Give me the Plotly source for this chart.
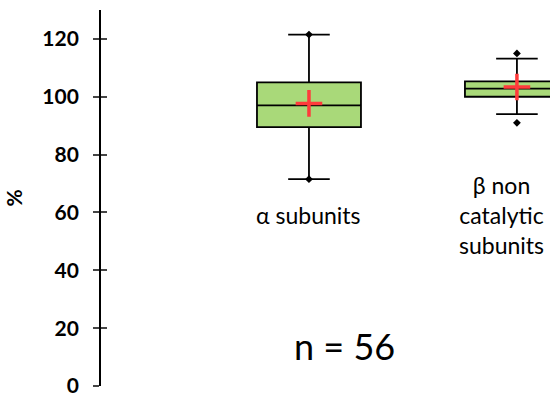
import plotly.graph_objects as go

# box statistics
groups = ["α subunits", "β non catalytic subunits"]
group_labels = ["α subunits", "β non<br>catalytic<br>subunits"]
q1 = [89.5, 100.0]
median = [97.0, 102.8]
q3 = [105.0, 105.3]
whisker_low = [71.5, 94.0]
whisker_high = [121.5, 113.2]
mean = [97.7, 103.4]
min_val = [71.5, 91.0]
max_val = [121.5, 115.0]

y_ticks = [0, 20, 40, 60, 80, 100, 120]
label_y = 59
n_text = "n = 56"

FONT = "Lato"
fig = go.Figure()

for i, g in enumerate(groups):
    fig.add_trace(go.Box(
        x=[g], q1=[q1[i]], median=[median[i]], q3=[q3[i]],
        lowerfence=[whisker_low[i]], upperfence=[whisker_high[i]],
        fillcolor="#A9D979", line=dict(color="black", width=1.8),
        width=0.5, whiskerwidth=0.4, boxpoints=False, hoverinfo="skip",
        showlegend=False,
    ))

# min / max points
fig.add_trace(go.Scatter(
    x=groups + groups, y=min_val + max_val, mode="markers",
    marker=dict(symbol="diamond", size=6, color="black"),
    showlegend=False, hoverinfo="skip",
))
# mean crosses
fig.add_trace(go.Scatter(
    x=groups, y=mean, mode="markers",
    marker=dict(symbol="cross-thin", size=19, line=dict(color="#FF3B3B", width=3.5)),
    showlegend=False, hoverinfo="skip",
))
# dummy trace so the inside-tick axis gets drawn
fig.add_trace(go.Scatter(x=[groups[0]], y=[None], yaxis="y2", showlegend=False, hoverinfo="skip"))

label_shift = [0, -15]
for i, g in enumerate(groups):
    fig.add_annotation(x=g, y=label_y, text=group_labels[i], showarrow=False,
                       xshift=label_shift[i],
                       font=dict(family=FONT, size=23, color="black"), yanchor="middle")

fig.add_annotation(x=0.17, y=14, xref="x", yref="y", text=n_text, showarrow=False,
                   font=dict(family=FONT, size=36, color="black"))

fig.update_layout(
    width=550, height=401,
    margin=dict(l=101, r=0, t=10, b=15),
    paper_bgcolor="white", plot_bgcolor="white",
    font=dict(family=FONT, color="black"),
    xaxis=dict(type="category", categoryarray=groups, range=[-1, 1.159],
               showline=False, showticklabels=False, ticks="", showgrid=False, zeroline=False),
    yaxis=dict(range=[0, 130], tickvals=y_ticks, ticks="outside", ticklen=6, tickwidth=1.5,
               showline=True, linecolor="black", linewidth=1.8, showgrid=False, zeroline=False,
               tickfont=dict(family=FONT, size=21, color="black", weight="bold"),
               ticklabelstandoff=10,
               title=dict(text="%", font=dict(family=FONT, size=21, weight="bold"), standoff=14)),
    yaxis2=dict(range=[0, 130], tickvals=y_ticks, ticks="inside", ticklen=6, tickwidth=1.5,
                overlaying="y", side="left", anchor="x", showline=False, showgrid=False,
                zeroline=False, showticklabels=False),
)

# drop the default page margin so the 550x401 figure fills the window
fig.write_html("out.html", config={"displayModeBar": False},
               post_script="document.body.style.margin='0';document.body.style.overflow='hidden';")
